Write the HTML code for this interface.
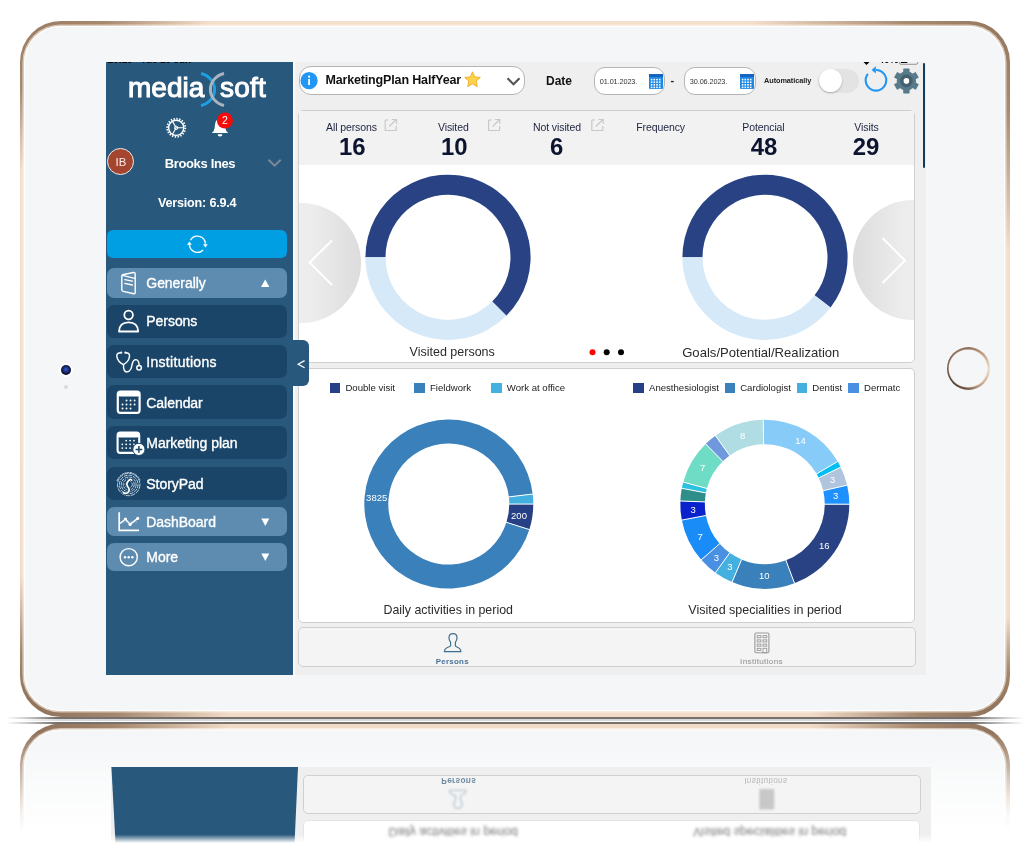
<!DOCTYPE html><html><head><meta charset='utf-8'><style>
*{margin:0;padding:0;box-sizing:border-box}
html,body{width:1035px;height:862px;overflow:hidden;background:#fff}
body{position:relative;font-family:"Liberation Sans",sans-serif}
.a{position:absolute}
.t{position:absolute;white-space:nowrap;line-height:1}
svg{position:absolute;overflow:visible}
</style></head><body><div style="position:absolute;left:0;top:0;width:1035px;height:862px;will-change:transform"><div class="a" style="left:0;top:720.3px;width:1035px;height:141.70000000000005px;overflow:hidden;-webkit-mask-image:linear-gradient(to bottom,#000 0px,#000 12px,rgba(0,0,0,.55) 55px,transparent 112px);mask-image:linear-gradient(to bottom,#000 0px,#000 12px,rgba(0,0,0,.55) 55px,transparent 112px)"><div class="a" style="left:0;top:-720.3px;width:1035px;height:720.3px;transform-origin:50% 100%;transform:scaleY(-1)"><div class="a" style="left:19.5px;top:20.8px;width:990px;height:696px;border-radius:41px;background:radial-gradient(ellipse 190px 150px at 0% 0%,#9a7a60 0%,#a88a70 45%,rgba(242,220,198,0) 100%),radial-gradient(ellipse 260px 230px at 100% 0%,#93745c 0%,#a98b72 40%,rgba(242,220,198,0) 100%),radial-gradient(ellipse 210px 140px at 0% 100%,#8c6e58 0%,#a4866c 45%,rgba(242,220,198,0) 100%),radial-gradient(ellipse 200px 100px at 100% 100%,#8c6e58 0%,#a4866c 45%,rgba(242,220,198,0) 100%),linear-gradient(180deg,#f4dfcb,#f2dcc8)"></div><div class="a" style="left:24.2px;top:25.5px;width:980.6px;height:685.7px;border-radius:36.5px;background:#f4f6f7;box-shadow:inset 0 0 0 1px #fff,0 0 0 1.6px rgba(255,246,236,.6)"></div></div></div><div class="a" style="left:0;top:721.0px;width:1035px;height:141.0px;overflow:hidden;-webkit-mask-image:linear-gradient(to bottom,#000 0px,#000 113.5px,transparent 122px);mask-image:linear-gradient(to bottom,#000 0px,#000 113.5px,transparent 122px)"><div class="a" style="left:0;top:-721.0px;width:1035px;height:721.0px;transform-origin:50% 100%;transform:scaleY(-1)"><div class="a" style="left:111px;top:560px;width:820px;height:115px;background:#efefef;filter:blur(0.6px)"></div><div class="a" style="left:111px;top:560px;width:188px;height:115px;background:#28587c;clip-path:polygon(6.6px 0,181.8px 0,187px 100%,0.4px 100%)"></div><div class="a" style="left:302.8px;top:520px;width:617.7px;height:102px;background:#fff;border:1px solid #e4e4e4;border-radius:5px;filter:blur(0.6px)"></div><div class="t" style="left:388.4px;top:603.678px;font-size:12.4px;color:#777;filter:blur(1.4px)">Daily activities in period</div><div class="t" style="left:693px;top:603.6875px;font-size:12.5px;color:#777;filter:blur(1.4px)">Visited specialities in period</div><div class="a" style="left:302.7px;top:627.5px;width:618.3px;height:39.5px;background:#f4f4f4;border:1px solid #d0d0d0;border-radius:5px;filter:blur(0.4px)"></div><div class="t" style="left:441.3px;top:657.1px;font-size:8.3px;font-weight:700;color:#6f8aa3;letter-spacing:.3px;filter:blur(0.7px)">Persons</div><div class="t" style="left:744.2px;top:657.1px;font-size:8.3px;color:#b8b8b8;letter-spacing:.3px;filter:blur(0.7px)">Institutions</div><svg style="left:5px;top:0;filter:blur(1px)" width="1035" height="720" viewBox="0 0 1035 720"><path d="M450.5 642 Q448.9 640.5 449 637.5 Q449.2 633.6 453 633.6 Q456.8 633.6 457 637.5 Q457.1 640.5 455.5 642 L455.3 645.5 Q455.5 646.5 457 647 Q460.9 648.5 460.9 651.7 L444.4 651.7 Q444.4 648.5 448.5 647 Q450.5 646.5 450.7 645.5 Z" fill="none" stroke="#b9c7d3" stroke-width="1.3"/><rect x="754.3" y="632.5" width="15" height="20.5" rx="1" fill="#c8c8c8"/></svg></div></div><div class="a" style="left:6px;top:716.9px;width:1018px;height:2.2px;background:linear-gradient(90deg,rgba(120,120,125,0) 0px,rgba(110,110,115,.35) 20px,#77716d 50px,#77716d 968px,rgba(110,110,115,.35) 998px,rgba(120,120,125,0) 1018px)"></div><div class="a" style="left:6px;top:721.5px;width:1018px;height:2.2px;background:linear-gradient(90deg,rgba(120,120,125,0) 0px,rgba(110,110,115,.35) 20px,#77716d 50px,#77716d 968px,rgba(110,110,115,.35) 998px,rgba(120,120,125,0) 1018px)"></div><div class="a" style="left:20px;top:718.7px;width:990px;height:2.8px;background:linear-gradient(90deg,rgba(214,215,217,0),#d6d7d9 40px,#d6d7d9 950px,rgba(214,215,217,0))"></div><div class="a" style="left:19.5px;top:20.8px;width:990px;height:696px;border-radius:41px;background:radial-gradient(ellipse 190px 150px at 0% 0%,#9a7a60 0%,#a88a70 45%,rgba(242,220,198,0) 100%),radial-gradient(ellipse 260px 230px at 100% 0%,#93745c 0%,#a98b72 40%,rgba(242,220,198,0) 100%),radial-gradient(ellipse 210px 140px at 0% 100%,#8c6e58 0%,#a4866c 45%,rgba(242,220,198,0) 100%),radial-gradient(ellipse 200px 100px at 100% 100%,#8c6e58 0%,#a4866c 45%,rgba(242,220,198,0) 100%),linear-gradient(180deg,#f4dfcb,#f2dcc8)"></div><div class="a" style="left:24.2px;top:25.5px;width:980.6px;height:685.7px;border-radius:36.5px;background:#f4f6f7;box-shadow:inset 0 0 0 1px #fff,0 0 0 1.6px rgba(255,246,236,.6)"></div><div class="a" style="left:60.5px;top:364.5px;width:10.5px;height:10.5px;border-radius:50%;background:radial-gradient(circle at 50% 45%,#3a5fd0 0,#1c2f80 35%,#05060a 75%);box-shadow:0 0 0 2px #fff"></div><div class="a" style="left:63.7px;top:384.5px;width:4px;height:4px;border-radius:50%;background:#d8dadd"></div><div class="a" style="left:946.5px;top:347.2px;width:43px;height:43px;border-radius:50%;background:conic-gradient(from 0deg,#8c6c56 0deg,#b8957a 40deg,#f3dcc6 90deg,#c9a88e 140deg,#6a4e3c 190deg,#4e3626 225deg,#6d5242 270deg,#8a6a54 320deg,#8c6c56 360deg)"></div><div class="a" style="left:949.3px;top:350px;width:37.4px;height:37.4px;border-radius:50%;background:#f4f6f7;box-shadow:0 0 1px 0.5px rgba(255,255,255,.9)"></div><div class="a" style="left:106px;top:62px;width:820px;height:613px;background:#efefef;overflow:hidden"><div class="a" style="left:0.00px;top:0.00px;width:187.20px;height:613.00px;background:#28587c"></div><div class="a" style="left:187.20px;top:0.00px;width:1.80px;height:613.00px;background:#fbfbfb"></div><div class="t" style="left:1.5px;top:-7.0px;font-size:10px;font-weight:700;color:#000;letter-spacing:-0.1px">10:20&nbsp;&nbsp;&nbsp;Tue 19 Jun</div><div class="t" style="left:772.5px;top:-7.0px;font-size:10px;font-weight:700;color:#000">40%</div><svg style="left:0;top:0" width="820" height="613" viewBox="106 62 820 613"><path d="M863.5 62 L869.5 62 L866.5 65 Z" fill="#000"/><rect x="899.3" y="58" width="18.5" height="6.3" rx="1.8" fill="none" stroke="#8a8a8a" stroke-width="0.9"/><rect x="900.8" y="59.5" width="6.5" height="3.5" fill="#000"/></svg><div class="t" style="left:22.00px;top:11.90px;font-size:28px;font-weight:400;color:#fff;letter-spacing:0px;-webkit-text-stroke:1.05px #fff">media</div><div class="t" style="left:114.00px;top:11.90px;font-size:28px;font-weight:400;color:#fff;letter-spacing:0.2px;-webkit-text-stroke:1.05px #fff">soft</div><svg style="left:0;top:0" width="820" height="613" viewBox="106 62 820 613"><path d="M201 73.5 A18 16.5 0 0 1 201 105.5" fill="none" stroke="#1ea0e0" stroke-width="3"/><path d="M224 73.5 A18 16.5 0 0 0 224 105.5" fill="none" stroke="#a9b4be" stroke-width="3"/></svg><svg style="left:0;top:0" width="820" height="613" viewBox="106 62 820 613"><circle cx="176.2" cy="127.8" r="7.6" fill="none" stroke="#fff" stroke-width="1.4"/><circle cx="176.2" cy="127.8" r="9.1" fill="none" stroke="#fff" stroke-width="1.8" stroke-dasharray="1.4 1.45"/><path d="M176.2 127.8 L183.6 127.8 M176.2 127.8 L172.5 121.4 M176.2 127.8 L172.5 134.2" fill="none" stroke="#fff" stroke-width="1.1"/><circle cx="176.2" cy="127.8" r="1.7" fill="none" stroke="#fff" stroke-width="1"/></svg><svg style="left:0;top:0" width="820" height="613" viewBox="106 62 820 613"><path d="M211.8 133 Q214.2 131.5 214.6 128 L215 124.5 Q215.6 118.8 220 118.8 Q224.4 118.8 225 124.5 L225.4 128 Q225.8 131.5 228.2 133 Z" fill="#fff"/><path d="M217.6 134.2 A2.4 2.2 0 0 0 222.4 134.2 Z" fill="#fff"/><circle cx="224.9" cy="120.5" r="8" fill="#f60b0b"/></svg><div class="t" style="left:-81.10px;width:400px;text-align:center;top:53.41px;font-size:10.5px;font-weight:400;color:#fff;letter-spacing:0px;">2</div><div class="a" style="left:1.20px;top:86.20px;width:27.20px;height:27.20px;border-radius:50%;background:#a4462f;border:1.3px solid #efe9e6"></div><div class="t" style="left:-185.00px;width:400px;text-align:center;top:95.25px;font-size:11.4px;font-weight:400;color:#f6ece8;letter-spacing:0px;">IB</div><div class="t" style="left:58.70px;top:94.60px;font-size:13px;font-weight:700;color:#fff;letter-spacing:-0.35px;">Brooks Ines</div><svg style="left:0;top:0" width="820" height="613" viewBox="106 62 820 613"><path d="M268.5 159.8 L274.6 165.6 L280.7 159.8" fill="none" stroke="#7d8a95" stroke-width="2"/></svg><div class="t" style="left:52.00px;top:134.93px;font-size:12.6px;font-weight:700;color:#fff;letter-spacing:-0.2px;">Version: 6.9.4</div><div class="a" style="left:1.00px;top:167.70px;width:180.00px;height:28.80px;background:#009fe3;border-radius:6px"></div><svg style="left:0;top:0" width="820" height="613" viewBox="106 62 820 613"><path d="M190.5 240.2 A8 8 0 0 1 205.4 243.6" fill="none" stroke="#fff" stroke-width="1.4"/><path d="M203.1 249.9 A8 8 0 0 1 189.4 244.8" fill="none" stroke="#fff" stroke-width="1.4"/><path d="M203 244.2 L207.8 244.2 L205.4 247.4 Z M187 244.8 L191.8 244.8 L189.4 241.4 Z" fill="#fff"/></svg><div class="a" style="left:1.00px;top:206.30px;width:180.00px;height:29.40px;background:#5e8cb0;border-radius:7px"></div><div class="t" style="left:40.30px;top:214.25px;font-size:14px;font-weight:400;color:#fff;letter-spacing:-0.05px;-webkit-text-stroke:0.35px #fff">Generally</div><svg style="left:0;top:0" width="820" height="613" viewBox="106 62 820 613"><path d="M261 287.1 L269.4 287.1 L265.2 279.5 Z" fill="#fff"/></svg><div class="a" style="left:1.00px;top:242.50px;width:180.00px;height:33.10px;background:#1a4568;border-radius:7px"></div><div class="t" style="left:40.30px;top:252.30px;font-size:14px;font-weight:400;color:#fff;letter-spacing:-0.05px;-webkit-text-stroke:0.35px #fff">Persons</div><div class="a" style="left:1.00px;top:283.40px;width:180.00px;height:32.80px;background:#1a4568;border-radius:7px"></div><div class="t" style="left:40.30px;top:293.05px;font-size:14px;font-weight:400;color:#fff;letter-spacing:0.3px;-webkit-text-stroke:0.35px #fff">Institutions</div><div class="a" style="left:1.00px;top:323.20px;width:180.00px;height:34.10px;background:#1a4568;border-radius:7px"></div><div class="t" style="left:40.30px;top:333.50px;font-size:14px;font-weight:400;color:#fff;letter-spacing:-0.05px;-webkit-text-stroke:0.35px #fff">Calendar</div><div class="a" style="left:1.00px;top:364.20px;width:180.00px;height:32.80px;background:#1a4568;border-radius:7px"></div><div class="t" style="left:40.30px;top:373.85px;font-size:14px;font-weight:400;color:#fff;letter-spacing:-0.05px;-webkit-text-stroke:0.35px #fff">Marketing plan</div><div class="a" style="left:1.00px;top:405.00px;width:180.00px;height:32.70px;background:#1a4568;border-radius:7px"></div><div class="t" style="left:40.30px;top:414.60px;font-size:14px;font-weight:400;color:#fff;letter-spacing:-0.05px;-webkit-text-stroke:0.35px #fff">StoryPad</div><div class="a" style="left:1.00px;top:445.30px;width:180.00px;height:29.00px;background:#5e8cb0;border-radius:7px"></div><div class="t" style="left:40.30px;top:453.05px;font-size:14px;font-weight:400;color:#fff;letter-spacing:-0.05px;-webkit-text-stroke:0.35px #fff">DashBoard</div><svg style="left:0;top:0" width="820" height="613" viewBox="106 62 820 613"><path d="M261.3 518.4 L269.3 518.4 L265.3 525.9 Z" fill="#fff"/></svg><div class="a" style="left:1.00px;top:481.00px;width:180.00px;height:28.00px;background:#5e8cb0;border-radius:7px"></div><div class="t" style="left:40.30px;top:488.25px;font-size:14px;font-weight:400;color:#fff;letter-spacing:-0.05px;-webkit-text-stroke:0.35px #fff">More</div><svg style="left:0;top:0" width="820" height="613" viewBox="106 62 820 613"><path d="M261.3 553.6 L269.3 553.6 L265.3 561.1 Z" fill="#fff"/></svg><svg style="left:0;top:0" width="820" height="613" viewBox="106 62 820 613"><path d="M122.6 274.8 L133.4 272.5 Q135.2 272.3 135.2 274 L135.2 292.5 Q135.2 294 133.8 293.8 L123.3 291.4 Q121.8 291 121.8 289.5 L121.8 276 Q121.8 275 122.6 274.8 Z" fill="none" stroke="#fff" stroke-width="1.4" stroke-linejoin="round"/><path d="M122.5 275.4 L134.8 278.3" stroke="#fff" stroke-width="1.3"/><path d="M124.8 279.6 L132.4 281.2 M124.8 283.4 L132.4 285" stroke="#fff" stroke-width="1.3" stroke-linecap="round"/><circle cx="128.6" cy="315" r="4.3" fill="none" stroke="#fff" stroke-width="1.8"/><path d="M119 331.5 Q119.3 322.3 128.6 322.3 Q137.9 322.3 138.2 331.5 Z" fill="none" stroke="#fff" stroke-width="1.8" stroke-linejoin="round"/><path d="M120.9 352.7 Q116.5 352.7 116.8 356.3 Q117.6 361.6 123.5 364.6 M125.7 352.7 Q129.8 352.7 129.5 356.3 Q129 361.6 123.5 364.6" fill="none" stroke="#fff" stroke-width="1.45"/><path d="M123.5 364.6 Q123.2 371.9 127 371.9 Q131 371.6 132 365 Q133 359.6 135.8 359.6 Q139 359.7 139.1 365.2" fill="none" stroke="#fff" stroke-width="1.45"/><circle cx="139.1" cy="367.8" r="2.3" fill="none" stroke="#fff" stroke-width="1.5"/><circle cx="121.2" cy="352.7" r="1.1" fill="#fff"/><circle cx="125.4" cy="352.7" r="1.1" fill="#fff"/><rect x="117.8" y="391.6" width="21.8" height="21.3" rx="2.6" fill="none" stroke="#fff" stroke-width="2.2"/><rect x="117.8" y="391.6" width="21.8" height="5" rx="2" fill="#fff"/><circle cx="126.53" cy="400.50" r="0.95" fill="#fff"/><circle cx="130.56" cy="400.50" r="0.95" fill="#fff"/><circle cx="134.59" cy="400.50" r="0.95" fill="#fff"/><circle cx="122.50" cy="404.50" r="0.95" fill="#fff"/><circle cx="126.53" cy="404.50" r="0.95" fill="#fff"/><circle cx="130.56" cy="404.50" r="0.95" fill="#fff"/><circle cx="134.59" cy="404.50" r="0.95" fill="#fff"/><circle cx="122.50" cy="408.50" r="0.95" fill="#fff"/><circle cx="126.53" cy="408.50" r="0.95" fill="#fff"/><circle cx="130.56" cy="408.50" r="0.95" fill="#fff"/><rect x="117.6" y="432.6" width="21.6" height="20.3" rx="2.6" fill="none" stroke="#fff" stroke-width="2.1"/><rect x="117.6" y="432.6" width="21.6" height="4.8" rx="2" fill="#fff"/><circle cx="126.20" cy="440.60" r="0.9" fill="#fff"/><circle cx="130.10" cy="440.60" r="0.9" fill="#fff"/><circle cx="134.00" cy="440.60" r="0.9" fill="#fff"/><circle cx="122.30" cy="444.35" r="0.9" fill="#fff"/><circle cx="126.20" cy="444.35" r="0.9" fill="#fff"/><circle cx="130.10" cy="444.35" r="0.9" fill="#fff"/><circle cx="134.00" cy="444.35" r="0.9" fill="#fff"/><circle cx="122.30" cy="448.10" r="0.9" fill="#fff"/><circle cx="126.20" cy="448.10" r="0.9" fill="#fff"/><circle cx="130.10" cy="448.10" r="0.9" fill="#fff"/><circle cx="138.9" cy="449.4" r="6.1" fill="#fff" stroke="#1a4568" stroke-width="1"/><path d="M135.6 449.4 L142.2 449.4 M138.9 446.1 L138.9 452.7" stroke="#1a4568" stroke-width="1.5"/><circle cx="128.7" cy="484.5" r="3.6" fill="none" stroke="#c9d9e8" stroke-width="0.95" stroke-dasharray="2.5 0.9"/><circle cx="128.7" cy="484.5" r="5.5" fill="none" stroke="#c9d9e8" stroke-width="0.95" stroke-dasharray="3.0 0.9"/><circle cx="128.7" cy="484.5" r="7.4" fill="none" stroke="#c9d9e8" stroke-width="0.95" stroke-dasharray="3.5 0.9"/><circle cx="128.7" cy="484.5" r="9.3" fill="none" stroke="#c9d9e8" stroke-width="0.95" stroke-dasharray="3.9 0.9"/><circle cx="128.7" cy="484.5" r="11.2" fill="none" stroke="#c9d9e8" stroke-width="0.95" stroke-dasharray="4.4 0.9"/><path d="M117 481 A12.3 12.3 0 0 1 140.4 481" fill="none" stroke="#c9d9e8" stroke-width="1" stroke-dasharray="2 0.8"/><path d="M131.8 480.8 Q131.2 478.4 128.9 480.3 Q125.6 483.4 127.7 486.5 Q130.8 490.3 127.6 492.7 Q125.1 494.3 122.9 492.1" fill="none" stroke="#1a4568" stroke-width="3.4"/><path d="M131.8 480.8 Q131.2 478.4 128.9 480.3 Q125.6 483.4 127.7 486.5 Q130.8 490.3 127.6 492.7 Q125.1 494.3 122.9 492.1" fill="none" stroke="#fff" stroke-width="1.7"/><path d="M119.2 512.2 L119.2 530.4 L139 530.4" fill="none" stroke="#fff" stroke-width="1.7"/><path d="M120.2 523.6 L125.4 519 L130.1 524.4 L137.7 518.4" fill="none" stroke="#fff" stroke-width="1.4"/><path d="M120.5 522 L137 522" stroke="#fff" stroke-width="0.8" stroke-dasharray="1.5 1" opacity=".55"/><circle cx="125.4" cy="519" r="1.6" fill="#fff"/><circle cx="130.1" cy="524.4" r="1.6" fill="#fff"/><circle cx="137.7" cy="518.4" r="1.6" fill="#fff"/><circle cx="128.7" cy="557.2" r="8.6" fill="none" stroke="#fff" stroke-width="1.4"/><circle cx="125" cy="557.2" r="1.2" fill="#fff"/><circle cx="128.7" cy="557.2" r="1.2" fill="#fff"/><circle cx="132.4" cy="557.2" r="1.2" fill="#fff"/></svg><div class="a" style="left:193.00px;top:4.30px;width:226.40px;height:28.90px;background:#fff;border:1px solid #b5b5b5;border-radius:12px"></div><svg style="left:0;top:0" width="820" height="613" viewBox="106 62 820 613"><circle cx="309.1" cy="80.7" r="8.6" fill="#2196f3"/><rect x="308.2" y="79" width="1.8" height="6" fill="#fff"/><circle cx="309.1" cy="76.7" r="1.1" fill="#fff"/></svg><div class="t" style="left:219.40px;top:11.82px;font-size:12.5px;font-weight:700;color:#111;letter-spacing:-0.15px;">MarketingPlan HalfYear</div><svg style="left:0;top:0" width="820" height="613" viewBox="106 62 820 613"><polygon points="472.50,71.80 474.73,76.93 480.30,77.47 476.11,81.17 477.32,86.63 472.50,83.80 467.68,86.63 468.89,81.17 464.70,77.47 470.27,76.93" fill="#fcd34a" stroke="#f0a81c" stroke-width="0.9" stroke-linejoin="round"/></svg><svg style="left:0;top:0" width="820" height="613" viewBox="106 62 820 613"><path d="M507.5 78.2 L513.5 84.2 L519.5 78.2" fill="none" stroke="#555" stroke-width="2.2"/></svg><div class="t" style="left:440.00px;top:12.84px;font-size:12px;font-weight:700;color:#111;letter-spacing:0px;">Date</div><div class="a" style="left:488.20px;top:5.20px;width:71.30px;height:28.30px;background:#fff;border:1px solid #b5b5b5;border-radius:11px"></div><div class="t" style="left:493.80px;top:16.12px;font-size:7.3px;font-weight:400;color:#333;letter-spacing:-0.1px;">01.01.2023.</div><svg style="left:0;top:0" width="820" height="613" viewBox="106 62 820 613"><rect x="649.0" y="74" width="14" height="15" rx="1.2" fill="#1e88e5"/><rect x="649.0" y="74" width="14" height="3" fill="#1565c0"/><rect x="650.8" y="78.8" width="1.6" height="1.6" fill="#fff"/><rect x="653.5" y="78.8" width="1.6" height="1.6" fill="#fff"/><rect x="656.2" y="78.8" width="1.6" height="1.6" fill="#fff"/><rect x="658.9" y="78.8" width="1.6" height="1.6" fill="#fff"/><rect x="650.8" y="81.4" width="1.6" height="1.6" fill="#fff"/><rect x="653.5" y="81.4" width="1.6" height="1.6" fill="#fff"/><rect x="656.2" y="81.4" width="1.6" height="1.6" fill="#fff"/><rect x="658.9" y="81.4" width="1.6" height="1.6" fill="#fff"/><rect x="650.8" y="84.0" width="1.6" height="1.6" fill="#fff"/><rect x="653.5" y="84.0" width="1.6" height="1.6" fill="#fff"/><rect x="656.2" y="84.0" width="1.6" height="1.6" fill="#fff"/><rect x="658.9" y="84.0" width="1.6" height="1.6" fill="#fff"/><rect x="650.8" y="86.6" width="1.6" height="1.6" fill="#fff"/><rect x="653.5" y="86.6" width="1.6" height="1.6" fill="#fff"/><rect x="656.2" y="86.6" width="1.6" height="1.6" fill="#fff"/><rect x="658.9" y="86.6" width="1.6" height="1.6" fill="#fff"/></svg><div class="t" style="left:564.50px;top:13.19px;font-size:11px;font-weight:700;color:#222;letter-spacing:0px;">-</div><div class="a" style="left:578.20px;top:5.20px;width:72.30px;height:28.30px;background:#fff;border:1px solid #b5b5b5;border-radius:11px"></div><div class="t" style="left:583.80px;top:16.12px;font-size:7.3px;font-weight:400;color:#333;letter-spacing:-0.1px;">30.06.2023.</div><svg style="left:0;top:0" width="820" height="613" viewBox="106 62 820 613"><rect x="740.0" y="74" width="14" height="15" rx="1.2" fill="#1e88e5"/><rect x="740.0" y="74" width="14" height="3" fill="#1565c0"/><rect x="741.8" y="78.8" width="1.6" height="1.6" fill="#fff"/><rect x="744.5" y="78.8" width="1.6" height="1.6" fill="#fff"/><rect x="747.2" y="78.8" width="1.6" height="1.6" fill="#fff"/><rect x="749.9" y="78.8" width="1.6" height="1.6" fill="#fff"/><rect x="741.8" y="81.4" width="1.6" height="1.6" fill="#fff"/><rect x="744.5" y="81.4" width="1.6" height="1.6" fill="#fff"/><rect x="747.2" y="81.4" width="1.6" height="1.6" fill="#fff"/><rect x="749.9" y="81.4" width="1.6" height="1.6" fill="#fff"/><rect x="741.8" y="84.0" width="1.6" height="1.6" fill="#fff"/><rect x="744.5" y="84.0" width="1.6" height="1.6" fill="#fff"/><rect x="747.2" y="84.0" width="1.6" height="1.6" fill="#fff"/><rect x="749.9" y="84.0" width="1.6" height="1.6" fill="#fff"/><rect x="741.8" y="86.6" width="1.6" height="1.6" fill="#fff"/><rect x="744.5" y="86.6" width="1.6" height="1.6" fill="#fff"/><rect x="747.2" y="86.6" width="1.6" height="1.6" fill="#fff"/><rect x="749.9" y="86.6" width="1.6" height="1.6" fill="#fff"/></svg><div class="t" style="left:658.00px;top:15.32px;font-size:7.3px;font-weight:700;color:#222;letter-spacing:-0.05px;">Automatically</div><div class="a" style="left:712.00px;top:6.50px;width:41.30px;height:24.30px;background:#e3e3e3;border-radius:13px"></div><div class="a" style="left:712.80px;top:7.30px;width:23.00px;height:22.90px;background:#fff;border-radius:50%;box-shadow:0 1px 2px rgba(0,0,0,.25)"></div><svg style="left:0;top:0" width="820" height="613" viewBox="106 62 820 613"><path d="M876 70 A10.3 10.3 0 1 1 867.9 73.9" fill="none" stroke="#2196f3" stroke-width="2.1"/><path d="M871.6 69.9 L875.8 66.3 L875.8 73.5 Z" fill="#2196f3"/></svg><svg style="left:0;top:0" width="820" height="613" viewBox="106 62 820 613"><g fill="#587b8c"><rect x="903.2" y="68.4" width="6.4" height="25" rx="0.6" transform="rotate(0 906.4 80.9)"/><rect x="903.2" y="68.4" width="6.4" height="25" rx="0.6" transform="rotate(60 906.4 80.9)"/><rect x="903.2" y="68.4" width="6.4" height="25" rx="0.6" transform="rotate(120 906.4 80.9)"/><circle cx="906.4" cy="80.9" r="9.7"/></g><circle cx="906.4" cy="80.9" r="6.3" fill="#42606e"/><circle cx="906.4" cy="80.9" r="2.8" fill="#fff"/></svg><div class="a" style="left:816.80px;top:1.40px;width:2.40px;height:104.30px;background:#0e3b5e;border-radius:1.5px"></div><div class="a" style="left:191.80px;top:47.60px;width:617.70px;height:253.40px;background:#fff;border:1px solid #cfcfcf;border-radius:5px;overflow:hidden"></div><div class="a" style="left:192.80px;top:48.60px;width:615.70px;height:54.70px;background:#f2f2f2"></div><div class="t" style="left:220.00px;top:59.51px;font-size:10.5px;font-weight:400;color:#1e2440;letter-spacing:-0.1px;">All persons</div><div class="t" style="left:233.00px;top:72.77px;font-size:23.9px;font-weight:700;color:#0c1430;letter-spacing:0px;">16</div><svg style="left:0;top:0" width="820" height="613" viewBox="106 62 820 613"><path d="M385.2 120 L385.2 130.5 L396.2 130.5 L396.2 126" fill="none" stroke="#c9c9c9" stroke-width="1.2"/><path d="M389.2 126.5 L396.2 119.5 M391.7 119.5 L396.5 119.5 L396.5 124" fill="none" stroke="#c9c9c9" stroke-width="1.2"/><path d="M385.2 120 L388.2 120" stroke="#c9c9c9" stroke-width="1.2"/></svg><div class="t" style="left:332.00px;top:59.51px;font-size:10.5px;font-weight:400;color:#1e2440;letter-spacing:-0.1px;">Visited</div><div class="t" style="left:335.00px;top:72.77px;font-size:23.9px;font-weight:700;color:#0c1430;letter-spacing:0px;">10</div><svg style="left:0;top:0" width="820" height="613" viewBox="106 62 820 613"><path d="M488.6 120 L488.6 130.5 L499.6 130.5 L499.6 126" fill="none" stroke="#c9c9c9" stroke-width="1.2"/><path d="M492.6 126.5 L499.6 119.5 M495.1 119.5 L499.9 119.5 L499.9 124" fill="none" stroke="#c9c9c9" stroke-width="1.2"/><path d="M488.6 120 L491.6 120" stroke="#c9c9c9" stroke-width="1.2"/></svg><div class="t" style="left:427.00px;top:59.51px;font-size:10.5px;font-weight:400;color:#1e2440;letter-spacing:-0.1px;">Not visited</div><div class="t" style="left:444.00px;top:72.77px;font-size:23.9px;font-weight:700;color:#0c1430;letter-spacing:0px;">6</div><svg style="left:0;top:0" width="820" height="613" viewBox="106 62 820 613"><path d="M591.8 120 L591.8 130.5 L602.8 130.5 L602.8 126" fill="none" stroke="#c9c9c9" stroke-width="1.2"/><path d="M595.8 126.5 L602.8 119.5 M598.3 119.5 L603.1 119.5 L603.1 124" fill="none" stroke="#c9c9c9" stroke-width="1.2"/><path d="M591.8 120 L594.8 120" stroke="#c9c9c9" stroke-width="1.2"/></svg><div class="t" style="left:530.30px;top:59.51px;font-size:10.5px;font-weight:400;color:#1e2440;letter-spacing:-0.1px;">Frequency</div><div class="t" style="left:636.30px;top:59.51px;font-size:10.5px;font-weight:400;color:#1e2440;letter-spacing:-0.1px;">Potencial</div><div class="t" style="left:644.70px;top:72.77px;font-size:23.9px;font-weight:700;color:#0c1430;letter-spacing:0px;">48</div><div class="t" style="left:748.30px;top:59.51px;font-size:10.5px;font-weight:400;color:#1e2440;letter-spacing:-0.1px;">Visits</div><div class="t" style="left:746.70px;top:72.77px;font-size:23.9px;font-weight:700;color:#0c1430;letter-spacing:0px;">29</div><div class="a" style="left:192.80px;top:103.30px;width:615.70px;height:196.70px;overflow:hidden"><div class="a" style="left:-58.30px;top:37.30px;width:120px;height:120px;border-radius:50%;background:linear-gradient(90deg,#f4f4f4 0%,#ececec 60%,#dcdcdc 100%)"></div><div class="a" style="left:553.90px;top:35.20px;width:120px;height:120px;border-radius:50%;background:linear-gradient(90deg,#dcdcdc 0%,#ececec 40%,#f4f4f4 100%)"></div></div><svg style="left:0;top:0" width="820" height="613" viewBox="106 62 820 613"><path d="M332 240.5 L309.5 262.5 L332 285" fill="none" stroke="#fff" stroke-width="2"/></svg><svg style="left:0;top:0" width="820" height="613" viewBox="106 62 820 613"><path d="M882.5 238 L905 260.5 L882.5 283" fill="none" stroke="#fff" stroke-width="2"/></svg><svg style="left:0;top:0" width="820" height="613" viewBox="106 62 820 613"><path d="M365.40 257.30A82.6 82.6 0 1 1 506.41 315.71L492.19 301.49A62.5 62.5 0 1 0 385.50 257.30Z" fill="#284284"/><path d="M506.41 315.71A82.6 82.6 0 0 1 365.40 257.30L385.50 257.30A62.5 62.5 0 0 0 492.19 301.49Z" fill="#d6e9f8"/><path d="M682.40 257.30A82.6 82.6 0 1 1 830.53 307.58L814.58 295.35A62.5 62.5 0 1 0 702.50 257.30Z" fill="#284284"/><path d="M830.53 307.58A82.6 82.6 0 0 1 682.40 257.30L702.50 257.30A62.5 62.5 0 0 0 814.58 295.35Z" fill="#d6e9f8"/></svg><div class="t" style="left:146.20px;width:400px;text-align:center;top:284.42px;font-size:12.5px;font-weight:400;color:#2a2a2a;letter-spacing:0px;">Visited persons</div><div class="t" style="left:454.80px;width:400px;text-align:center;top:283.91px;font-size:13.1px;font-weight:400;color:#2a2a2a;letter-spacing:0px;">Goals/Potential/Realization</div><svg style="left:0;top:0" width="820" height="613" viewBox="106 62 820 613"><circle cx="592.5" cy="352.3" r="3" fill="#f00"/><circle cx="606.7" cy="352.3" r="3" fill="#000"/><circle cx="621" cy="352.3" r="3" fill="#000"/></svg><div class="a" style="left:191.60px;top:305.90px;width:617.90px;height:255.00px;background:#fff;border:1px solid #cfcfcf;border-radius:5px"></div><div class="a" style="left:223.60px;top:321.20px;width:10.70px;height:10.00px;background:#263f85"></div><div class="t" style="left:239.40px;top:321.37px;font-size:9.6px;font-weight:400;color:#222;letter-spacing:0px;">Double visit</div><div class="a" style="left:308.00px;top:321.20px;width:10.70px;height:10.00px;background:#3a80ba"></div><div class="t" style="left:324.00px;top:321.37px;font-size:9.6px;font-weight:400;color:#222;letter-spacing:0px;">Fieldwork</div><div class="a" style="left:385.30px;top:321.20px;width:10.70px;height:10.00px;background:#44b0e0"></div><div class="t" style="left:400.80px;top:321.37px;font-size:9.6px;font-weight:400;color:#222;letter-spacing:0px;">Work at office</div><div class="a" style="left:527.00px;top:321.20px;width:10.70px;height:10.00px;background:#263f85"></div><div class="t" style="left:543.00px;top:321.37px;font-size:9.6px;font-weight:400;color:#222;letter-spacing:0px;">Anesthesiologist</div><div class="a" style="left:618.80px;top:321.20px;width:10.70px;height:10.00px;background:#3a80ba"></div><div class="t" style="left:634.20px;top:321.37px;font-size:9.6px;font-weight:400;color:#222;letter-spacing:0px;">Cardiologist</div><div class="a" style="left:690.80px;top:321.20px;width:10.70px;height:10.00px;background:#44b0e0"></div><div class="t" style="left:706.30px;top:321.37px;font-size:9.6px;font-weight:400;color:#222;letter-spacing:0px;">Dentist</div><div class="a" style="left:742.00px;top:321.20px;width:10.70px;height:10.00px;background:#4a90e2"></div><div class="t" style="left:758.00px;top:321.37px;font-size:9.6px;font-weight:400;color:#222;letter-spacing:0px;">Dermatc</div><svg style="left:0;top:0" width="820" height="613" viewBox="106 62 820 613"><path d="M533.30 504.10A84.5 84.5 0 0 1 529.37 529.58L506.48 522.34A60.5 60.5 0 0 0 509.30 504.10Z" fill="#263f85"/><path d="M529.37 529.58A84.5 84.5 0 1 1 532.70 494.03L508.87 496.89A60.5 60.5 0 1 0 506.48 522.34Z" fill="#3a80ba"/><path d="M532.70 494.03A84.5 84.5 0 0 1 533.30 504.10L509.30 504.10A60.5 60.5 0 0 0 508.87 496.89Z" fill="#44b0e0"/><line x1="508.80" y1="504.10" x2="533.80" y2="504.10" stroke="#fff" stroke-width="1"/><line x1="506.01" y1="522.19" x2="529.84" y2="529.73" stroke="#fff" stroke-width="1"/><line x1="508.37" y1="496.95" x2="533.19" y2="493.97" stroke="#fff" stroke-width="1"/></svg><svg style="left:0;top:0" width="820" height="613" viewBox="106 62 820 613"><path d="M849.30 504.20A84.5 84.5 0 0 1 794.53 583.30L785.91 560.36A60 60 0 0 0 824.80 504.20Z" fill="#284284"/><path d="M794.53 583.30A84.5 84.5 0 0 1 732.09 582.11L741.58 559.52A60 60 0 0 0 785.91 560.36Z" fill="#3a80ba"/><path d="M732.09 582.11A84.5 84.5 0 0 1 715.39 572.75L729.72 552.87A60 60 0 0 0 741.58 559.52Z" fill="#44b0e0"/><path d="M715.39 572.75A84.5 84.5 0 0 1 701.23 559.86L719.66 543.73A60 60 0 0 0 729.72 552.87Z" fill="#4a90e2"/><path d="M701.23 559.86A84.5 84.5 0 0 1 681.81 520.10L705.87 515.49A60 60 0 0 0 719.66 543.73Z" fill="#1a8cf8"/><path d="M681.81 520.10A84.5 84.5 0 0 1 680.36 501.00L704.84 501.93A60 60 0 0 0 705.87 515.49Z" fill="#0a22cc"/><path d="M680.36 501.00A84.5 84.5 0 0 1 681.81 488.30L705.87 492.91A60 60 0 0 0 704.84 501.93Z" fill="#2e8f8a"/><path d="M681.81 488.30A84.5 84.5 0 0 1 683.25 482.07L706.89 488.49A60 60 0 0 0 705.87 492.91Z" fill="#2ec0e0"/><path d="M683.25 482.07A84.5 84.5 0 0 1 705.62 443.89L722.78 461.37A60 60 0 0 0 706.89 488.49Z" fill="#6fdcc6"/><path d="M705.62 443.89A84.5 84.5 0 0 1 715.39 435.65L729.72 455.53A60 60 0 0 0 722.78 461.37Z" fill="#6f98dd"/><path d="M715.39 435.65A84.5 84.5 0 0 1 763.20 419.72L763.66 444.21A60 60 0 0 0 729.72 455.53Z" fill="#b0dde3"/><path d="M763.20 419.72A84.5 84.5 0 0 1 837.71 461.49L816.57 473.87A60 60 0 0 0 763.66 444.21Z" fill="#87cbf8"/><path d="M837.71 461.49A84.5 84.5 0 0 1 840.73 467.13L818.72 477.88A60 60 0 0 0 816.57 473.87Z" fill="#00bff5"/><path d="M840.73 467.13A84.5 84.5 0 0 1 847.13 485.17L823.26 490.69A60 60 0 0 0 818.72 477.88Z" fill="#b0c4de"/><path d="M847.13 485.17A84.5 84.5 0 0 1 849.30 504.20L824.80 504.20A60 60 0 0 0 823.26 490.69Z" fill="#1e90ff"/><line x1="824.30" y1="504.20" x2="849.80" y2="504.20" stroke="#fff" stroke-width="1"/><line x1="785.74" y1="559.89" x2="794.71" y2="583.76" stroke="#fff" stroke-width="1"/><line x1="741.77" y1="559.06" x2="731.90" y2="582.57" stroke="#fff" stroke-width="1"/><line x1="730.01" y1="552.47" x2="715.10" y2="573.16" stroke="#fff" stroke-width="1"/><line x1="720.03" y1="543.40" x2="700.85" y2="560.19" stroke="#fff" stroke-width="1"/><line x1="706.36" y1="515.39" x2="681.32" y2="520.19" stroke="#fff" stroke-width="1"/><line x1="705.34" y1="501.95" x2="679.86" y2="500.98" stroke="#fff" stroke-width="1"/><line x1="706.36" y1="493.01" x2="681.32" y2="488.21" stroke="#fff" stroke-width="1"/><line x1="707.38" y1="488.62" x2="682.77" y2="481.94" stroke="#fff" stroke-width="1"/><line x1="723.13" y1="461.73" x2="705.27" y2="443.53" stroke="#fff" stroke-width="1"/><line x1="730.01" y1="455.93" x2="715.10" y2="435.24" stroke="#fff" stroke-width="1"/><line x1="763.67" y1="444.71" x2="763.19" y2="419.22" stroke="#fff" stroke-width="1"/><line x1="816.14" y1="474.13" x2="838.14" y2="461.24" stroke="#fff" stroke-width="1"/><line x1="818.27" y1="478.09" x2="841.18" y2="466.91" stroke="#fff" stroke-width="1"/><line x1="822.77" y1="490.80" x2="847.62" y2="485.06" stroke="#fff" stroke-width="1"/></svg><div class="t" style="left:70.70px;width:400px;text-align:center;top:430.78px;font-size:9.5px;font-weight:400;color:#fff;letter-spacing:0px;">3825</div><div class="t" style="left:213.00px;width:400px;text-align:center;top:448.68px;font-size:9.5px;font-weight:400;color:#fff;letter-spacing:0px;">200</div><div class="t" style="left:518.30px;width:400px;text-align:center;top:478.88px;font-size:9.5px;font-weight:400;color:#fff;letter-spacing:0px;">16</div><div class="t" style="left:458.30px;width:400px;text-align:center;top:509.08px;font-size:9.5px;font-weight:400;color:#fff;letter-spacing:0px;">10</div><div class="t" style="left:424.00px;width:400px;text-align:center;top:500.38px;font-size:9.5px;font-weight:400;color:#fff;letter-spacing:0px;">3</div><div class="t" style="left:410.30px;width:400px;text-align:center;top:490.58px;font-size:9.5px;font-weight:400;color:#fff;letter-spacing:0px;">3</div><div class="t" style="left:394.20px;width:400px;text-align:center;top:469.68px;font-size:9.5px;font-weight:400;color:#fff;letter-spacing:0px;">7</div><div class="t" style="left:387.10px;width:400px;text-align:center;top:442.58px;font-size:9.5px;font-weight:400;color:#fff;letter-spacing:0px;">3</div><div class="t" style="left:396.60px;width:400px;text-align:center;top:401.08px;font-size:9.5px;font-weight:400;color:#fff;letter-spacing:0px;">7</div><div class="t" style="left:436.70px;width:400px;text-align:center;top:368.68px;font-size:9.5px;font-weight:400;color:#fff;letter-spacing:0px;">8</div><div class="t" style="left:494.50px;width:400px;text-align:center;top:374.28px;font-size:9.5px;font-weight:400;color:#fff;letter-spacing:0px;">14</div><div class="t" style="left:526.70px;width:400px;text-align:center;top:413.38px;font-size:9.5px;font-weight:400;color:#fff;letter-spacing:0px;">3</div><div class="t" style="left:529.70px;width:400px;text-align:center;top:428.88px;font-size:9.5px;font-weight:400;color:#fff;letter-spacing:0px;">3</div><div class="t" style="left:142.20px;width:400px;text-align:center;top:542.40px;font-size:12.4px;font-weight:400;color:#2a2a2a;letter-spacing:0px;">Daily activities in period</div><div class="t" style="left:459.00px;width:400px;text-align:center;top:542.42px;font-size:12.5px;font-weight:400;color:#2a2a2a;letter-spacing:0px;">Visited specialities in period</div><div class="a" style="left:191.50px;top:564.90px;width:618.50px;height:40.60px;background:#f4f4f4;border:1px solid #cfcfcf;border-radius:5px"></div><svg style="left:0;top:0" width="820" height="613" viewBox="106 62 820 613"><path d="M450.5 642 Q448.9 640.5 449 637.5 Q449.2 633.6 453 633.6 Q456.8 633.6 457 637.5 Q457.1 640.5 455.5 642 L455.3 645.5 Q455.5 646.5 457 647 Q460.9 648.5 460.9 651.7 L444.4 651.7 Q444.4 648.5 448.5 647 Q450.5 646.5 450.7 645.5 Z" fill="none" stroke="#3f6d90" stroke-width="1.2" stroke-linejoin="round"/></svg><div class="t" style="left:146.30px;width:400px;text-align:center;top:596.01px;font-size:7.9px;font-weight:700;color:#4a7398;letter-spacing:0.3px;">Persons</div><svg style="left:0;top:0" width="820" height="613" viewBox="106 62 820 613"><rect x="754.9" y="633" width="14" height="19.8" rx="1.2" fill="none" stroke="#9a9a9a" stroke-width="1.1"/><rect x="757.2" y="635.60" width="3.7" height="2.1" fill="none" stroke="#9a9a9a" stroke-width="0.9"/><rect x="763.0" y="635.60" width="3.7" height="2.1" fill="none" stroke="#9a9a9a" stroke-width="0.9"/><rect x="757.2" y="639.85" width="3.7" height="2.1" fill="none" stroke="#9a9a9a" stroke-width="0.9"/><rect x="763.0" y="639.85" width="3.7" height="2.1" fill="none" stroke="#9a9a9a" stroke-width="0.9"/><rect x="757.2" y="644.10" width="3.7" height="2.1" fill="none" stroke="#9a9a9a" stroke-width="0.9"/><rect x="763.0" y="644.10" width="3.7" height="2.1" fill="none" stroke="#9a9a9a" stroke-width="0.9"/><rect x="757.2" y="648.35" width="3.7" height="2.1" fill="none" stroke="#9a9a9a" stroke-width="0.9"/><rect x="763" y="648.3" width="3.7" height="4.5" fill="none" stroke="#9a9a9a" stroke-width="0.9"/></svg><div class="t" style="left:455.50px;width:400px;text-align:center;top:595.84px;font-size:8.1px;font-weight:400;color:#9e9e9e;letter-spacing:0.35px;-webkit-text-stroke:0.15px #9e9e9e">Institutions</div><div class="a" style="left:186.70px;top:277.70px;width:16.30px;height:46.60px;background:#28587c;border-radius:0 6px 6px 0"></div><svg style="left:0;top:0" width="820" height="613" viewBox="106 62 820 613"><path d="M304.6 360.6 L298.2 364.2 L304.6 367.8" fill="none" stroke="#fff" stroke-width="1.3"/></svg></div></div></body></html>
